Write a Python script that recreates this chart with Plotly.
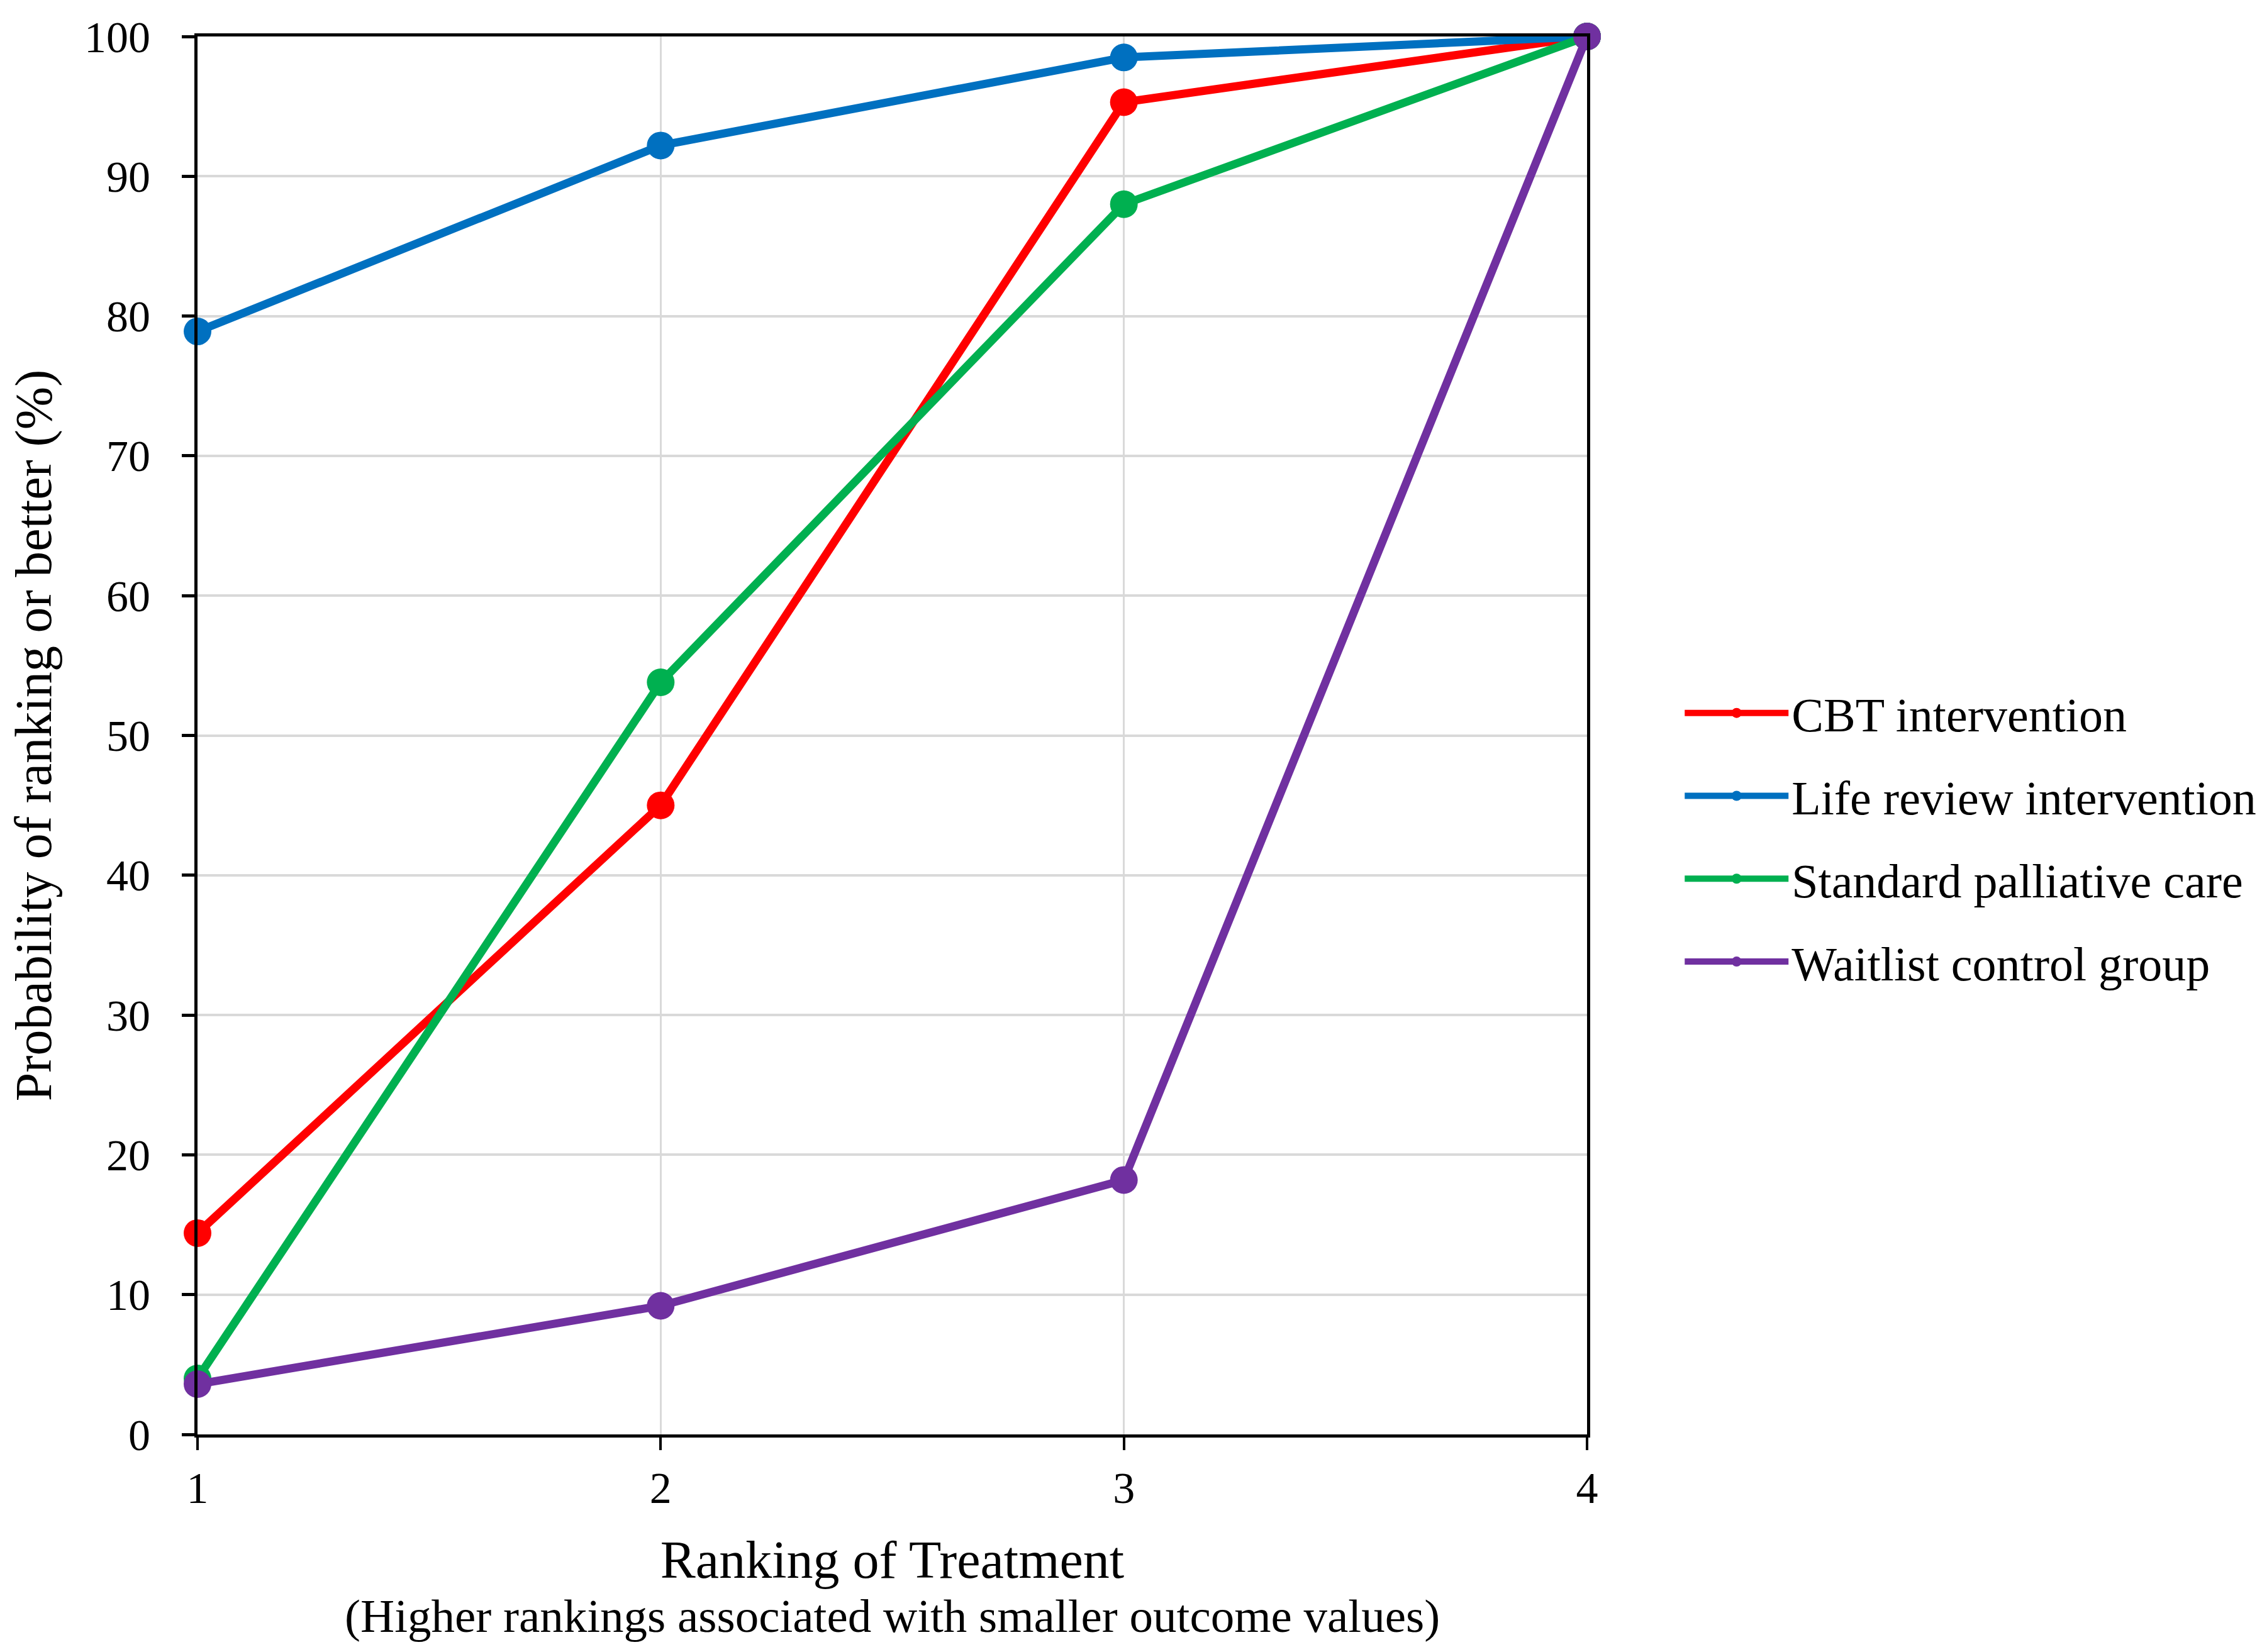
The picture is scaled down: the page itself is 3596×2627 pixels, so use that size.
import plotly.graph_objects as go

# ranking positions and cumulative probabilities (%)
ranks = [1, 2, 3, 4]
cbt = [14.4, 45.0, 95.3, 100]
life_review = [78.9, 92.2, 98.5, 100]
standard_care = [4.0, 53.8, 88.0, 100]
waitlist = [3.6, 9.2, 18.2, 100]

names = ['CBT intervention', 'Life review intervention',
         'Standard palliative care', 'Waitlist control group']
colors = ['#FF0000', '#0070C0', '#00B050', '#7030A0']
y_ticks = list(range(0, 101, 10))

FONT = 'Times New Roman, Liberation Serif, serif'

fig = go.Figure()
for i, (name, vals) in enumerate(zip(names, [cbt, life_review, standard_care, waitlist])):
    fig.add_trace(go.Scatter(x=ranks, y=vals, name=name,
                             mode='lines+markers',
                             line={'color': colors[i], 'width': 13},
                             marker={'color': colors[i], 'size': 44},
                             legendgroup=name,
                             cliponaxis=False))

fig.update_layout(
    width=3596, height=2627,
    margin={'l': 306, 'r': 1070, 't': 50, 'b': 354},
    paper_bgcolor='white', plot_bgcolor='white',
    font={'family': FONT, 'color': 'black', 'size': 70},
    showlegend=True,
    legend={'x': (2677 - 306) / 2220, 'xanchor': 'left',
            'y': 0.427, 'yanchor': 'middle',
            'font': {'size': 76},
            'traceorder': 'grouped', 'tracegroupgap': 30,
            'itemwidth': 165, 'bgcolor': 'rgba(0,0,0,0)'},
    xaxis={'range': [1, 4], 'tickvals': ranks,
           'showgrid': True, 'gridcolor': '#D9D9D9', 'gridwidth': 3,
           'zeroline': False,
           'showline': True, 'linecolor': 'black', 'linewidth': 5, 'mirror': True,
           'ticks': 'outside', 'ticklen': 20, 'tickwidth': 4, 'tickcolor': 'black',
           'tickfont': {'size': 70},
           'title': {'text': 'Ranking of Treatment', 'font': {'size': 84},
                     'standoff': 48}},
    yaxis={'range': [0, 100], 'tickvals': y_ticks,
           'showgrid': True, 'gridcolor': '#D9D9D9', 'gridwidth': 4,
           'zeroline': False,
           'showline': True, 'linecolor': 'black', 'linewidth': 5, 'mirror': True,
           'ticks': 'outside', 'ticklen': 20, 'tickwidth': 5, 'tickcolor': 'black',
           'tickfont': {'size': 70}, 'ticklabelstandoff': 36,
           'title': {'text': 'Probability of ranking or better (%)',
                     'font': {'size': 82}, 'standoff': 35}},
)

fig.add_annotation(text='(Higher rankings associated with smaller outcome values)',
                   xref='paper', yref='paper', x=0.5, y=-0.11,
                   xanchor='center', yanchor='top', showarrow=False,
                   font={'size': 75})

fig.write_html('out.html')
